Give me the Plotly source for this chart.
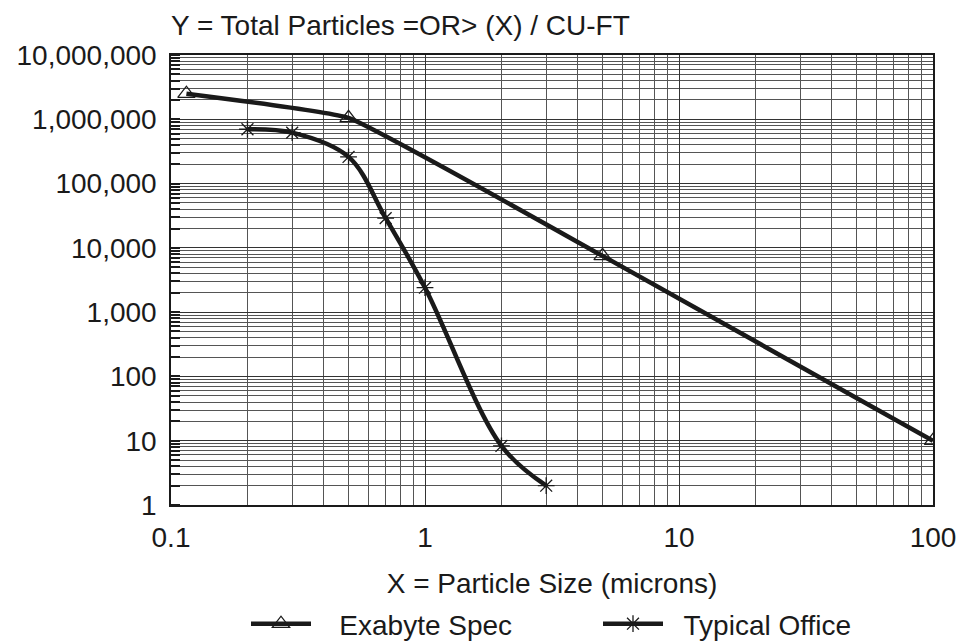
import plotly.graph_objects as go

# Data
exabyte_x = [0.115, 0.5, 5, 100]
exabyte_y = [2.5e6, 1.05e6, 7500, 10]

office_x = [0.2, 0.3, 0.5, 0.7, 1, 2, 3]
office_y = [7.0e5, 6.2e5, 2.6e5, 2.9e4, 2400, 8.3, 2.0]

x_tickvals = [0.1, 1, 10, 100]
x_ticktext = ["0.1", "1", "10", "100"]
y_tickvals = [1, 10, 100, 1000, 1e4, 1e5, 1e6, 1e7]
y_ticktext = ["1", "10", "100", "1,000", "10,000", "100,000", "1,000,000", "10,000,000"]

FONT = "Liberation Sans, Arial, sans-serif"
FS = 28
INK = "#1a1a1a"
NB = "\u00a0"

fig = go.Figure()
fig.add_trace(go.Scatter(
    x=exabyte_x, y=exabyte_y, name=NB * 3 + "Exabyte Spec", mode="lines+markers",
    line=dict(color=INK, width=4.5, shape="spline", smoothing=0.3),
    marker=dict(symbol="triangle-up-open", size=15, color=INK, line=dict(width=1.3)),
))
fig.add_trace(go.Scatter(
    x=office_x, y=office_y, name=NB * 2 + "Typical Office", mode="lines+markers",
    line=dict(color=INK, width=4.5, shape="spline", smoothing=1.0),
    marker=dict(symbol="asterisk-open", size=14, color=INK, line=dict(width=1.3)),
))

fig.update_layout(
    width=961, height=643,
    margin=dict(l=171, r=28, t=55, b=138, autoexpand=False),
    paper_bgcolor="white", plot_bgcolor="white",
    font=dict(family=FONT, size=FS, color=INK),
    title=dict(text="Y = Total Particles =OR> (X) / CU-FT", x=171 / 961, xanchor="left",
               y=1 - 25 / 643, yanchor="middle", font=dict(family=FONT, size=FS, color=INK)),
    showlegend=True,
    legend=dict(orientation="h", x=(246 - 171) / 762, xanchor="left",
                y=-(624 - 505) / 450, yanchor="middle",
                font=dict(family=FONT, size=FS, color=INK),
                entrywidth=277, entrywidthmode="pixels", itemwidth=60,
                bgcolor="rgba(0,0,0,0)"),
)

fig.update_xaxes(
    type="log", range=[-1, 2], tickvals=x_tickvals, ticktext=x_ticktext,
    showline=True, linecolor=INK, linewidth=1.5, mirror=True,
    showgrid=True, gridcolor="#333333", gridwidth=1.2,
    ticks="", ticklabelstandoff=7, automargin=False,
    minor=dict(dtick="D1", showgrid=True, gridcolor="#555555", gridwidth=1, ticks=""),
    title=dict(text="X = Particle Size (microns)", standoff=21,
               font=dict(family=FONT, size=FS, color=INK)),
    zeroline=False,
)
fig.update_yaxes(
    type="log", range=[0, 7], tickvals=y_tickvals, ticktext=y_ticktext,
    showline=True, linecolor=INK, linewidth=1.5, mirror=True,
    showgrid=True, gridcolor="#333333", gridwidth=1.2,
    ticks="", ticklabelstandoff=7, automargin=False,
    minor=dict(dtick="D1", showgrid=True, gridcolor="#555555", gridwidth=1,
               ticks="inside", ticklen=9, tickcolor=INK, tickwidth=1.5),
    zeroline=False,
)

fig.write_html("out.html", config={"displayModeBar": False},
               post_script="document.body.style.margin='0';")
